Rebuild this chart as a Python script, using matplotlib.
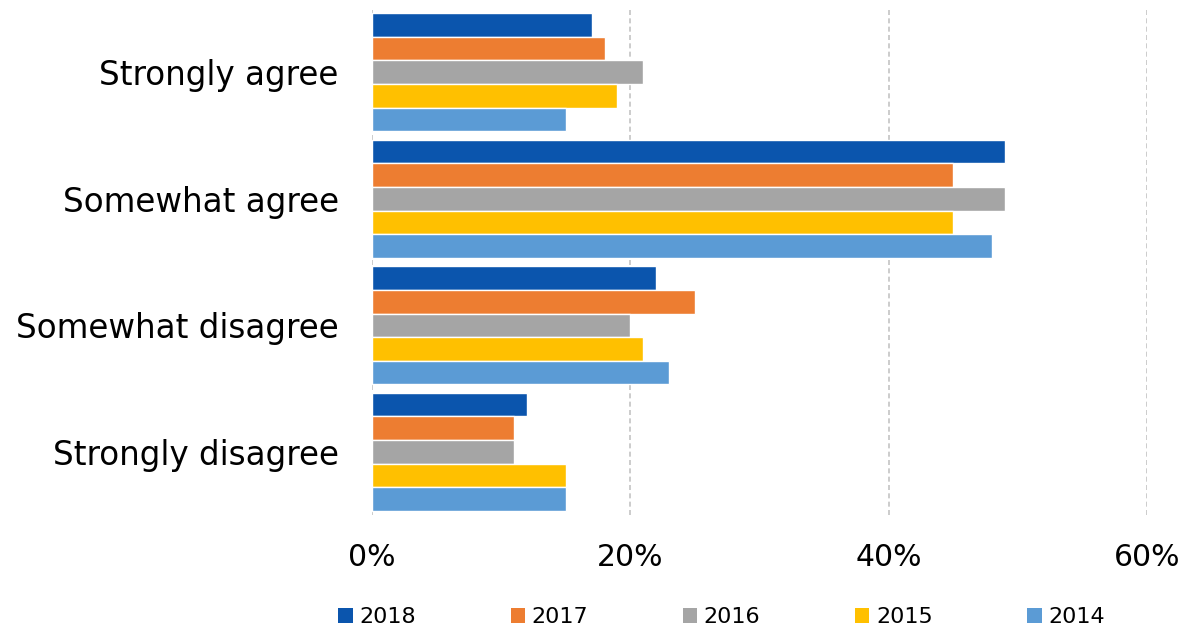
import matplotlib
matplotlib.use("Agg")
import matplotlib.pyplot as plt
from matplotlib.patches import Patch
import numpy as np

categories = ["Strongly agree", "Somewhat agree", "Somewhat disagree", "Strongly disagree"]
years = ["2018", "2017", "2016", "2015", "2014"]
v2018 = [17, 49, 22, 12]
v2017 = [18, 45, 25, 11]
v2016 = [21, 49, 20, 11]
v2015 = [19, 45, 21, 15]
v2014 = [15, 48, 23, 15]
series = [v2018, v2017, v2016, v2015, v2014]
colors = ["#0B55AD", "#ED7D31", "#A5A5A5", "#FFC000", "#5B9BD5"]
xticks = [0, 20, 40, 60]
xticklabels = ["0%", "20%", "40%", "60%"]

plt.rcParams['font.family'] = ['DejaVu Sans']
fig = plt.figure(figsize=(11.83, 6.29), dpi=100)
ax = fig.add_axes([0.3145, 0.181, 0.9696 - 0.3145, 0.9857 - 0.181])

n = len(series)
h = 0.187
y = np.arange(len(categories))
for k, (vals, c, yr) in enumerate(zip(series, colors, years)):
    offs = (k - (n - 1) / 2) * h
    ax.barh(y + offs, vals, height=h, color=c, edgecolor="white", linewidth=1.0,
            label=yr, zorder=3)

ax.set_xlim(0, 60)
ax.set_ylim(len(categories) - 0.5, -0.5)
ax.set_xticks(xticks)
ax.set_xticklabels(xticklabels, fontsize=21.5)
ax.set_yticks(y)
ax.set_yticklabels(categories, fontsize=23.5)
ax.tick_params(axis="both", length=0)
ax.tick_params(axis="x", pad=20)
ax.tick_params(axis="y", pad=24)
for s in ax.spines.values():
    s.set_visible(False)
ax.grid(axis="x", linestyle=(0, (3, 2)), color="#C4C4C4", linewidth=1.2, zorder=0)
ax.grid(axis="y", visible=False)

handles = [Patch(facecolor=c, edgecolor="none") for c in colors]
fig.legend(handles, years, loc="center", bbox_to_anchor=(0.61, 0.019), ncol=5,
           frameon=False, fontsize=16, handlelength=0.65, handleheight=0.65,
           handletextpad=0.3, columnspacing=4.25)

fig.savefig("out.png", dpi=100)
